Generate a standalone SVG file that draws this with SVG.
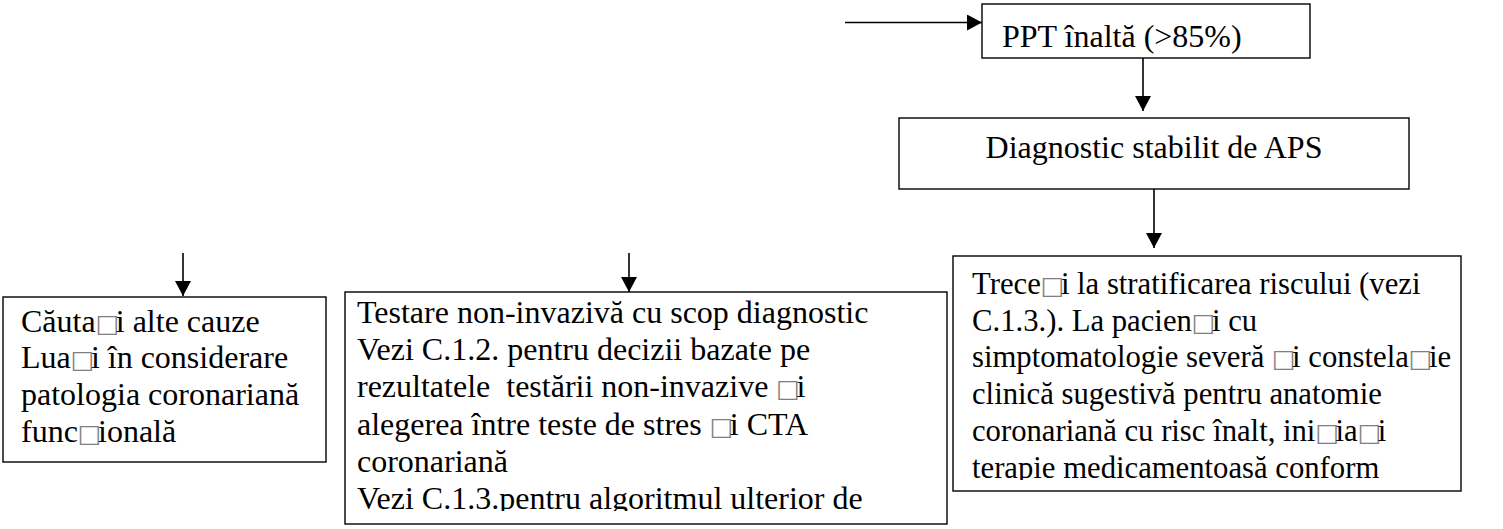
<svg xmlns="http://www.w3.org/2000/svg" width="1503" height="529" viewBox="0 0 1503 529">
<style>
.box{fill:#fff;stroke:#000;stroke-width:1.4}
.t{font-family:"Liberation Serif","Times New Roman",serif;font-size:32px;fill:#000}
.r{font-size:30.7px}
.sq{font-family:"DejaVu Sans",sans-serif;font-size:25px;letter-spacing:-3.5px;fill:#808080}
.con{stroke:#000;stroke-width:1.6;fill:none;marker-end:url(#ah)}
</style>
<defs>
<marker id="ah" markerUnits="userSpaceOnUse" markerWidth="16" markerHeight="16" refX="15" refY="8" orient="auto">
<path d="M0,0 L15,8 L0,16 Z" fill="#000"/>
</marker>
<clipPath id="cm"><rect x="345" y="292" width="602" height="219"/></clipPath>
<clipPath id="cr"><rect x="953" y="256" width="508" height="224"/></clipPath>
</defs>
<g id="connectors">
<line class="con" x1="845" y1="22.5" x2="982" y2="22.5"/>
<line class="con" x1="1143" y1="58" x2="1143" y2="111"/>
<line class="con" x1="1154" y1="188" x2="1154" y2="248"/>
<line class="con" x1="183" y1="253" x2="183" y2="296"/>
<line class="con" x1="629" y1="253" x2="629" y2="292"/>
</g>
<g id="ppt">
<rect class="box" x="982" y="4" width="328" height="54"/>
<text class="t" x="1002" y="47">PPT înaltă (&gt;85%)</text>
</g>
<g id="diag">
<rect class="box" x="899" y="118" width="510" height="71"/>
<text class="t" x="1154" y="158" text-anchor="middle">Diagnostic stabilit de APS</text>
</g>
<g id="left">
<rect class="box" x="3" y="297" width="323" height="165"/>
<text class="t" x="21" y="331.7">Căuta<tspan class="sq">□</tspan>i alte cauze</text>
<text class="t" x="21" y="368.4">Lua<tspan class="sq">□</tspan>i în considerare</text>
<text class="t" x="21" y="405.1">patologia coronariană</text>
<text class="t" x="21" y="441.8">func<tspan class="sq">□</tspan>ională</text>
</g>
<g id="middle">
<rect class="box" x="345" y="292" width="602" height="232"/>
<g clip-path="url(#cm)">
<text class="t" x="357" y="323">Testare non-invazivă cu scop diagnostic</text>
<text class="t" x="357" y="360.2">Vezi C.1.2. pentru decizii bazate pe</text>
<text class="t" x="357" y="397.4" xml:space="preserve">rezultatele  testării non-invazive <tspan class="sq">□</tspan>i</text>
<text class="t" x="357" y="434.6">alegerea între teste de stres <tspan class="sq">□</tspan>i CTA</text>
<text class="t" x="357" y="471.8">coronariană</text>
<text class="t" x="357" y="509">Vezi C.1.3.pentru algoritmul ulterior de</text>
</g>
</g>
<g id="right">
<rect class="box" x="953" y="256" width="508" height="235"/>
<g clip-path="url(#cr)">
<text class="t r" x="972" y="294">Trece<tspan class="sq">□</tspan>i la stratificarea riscului (vezi</text>
<text class="t r" x="972" y="330.7">C.1.3.). La pacien<tspan class="sq">□</tspan>i cu</text>
<text class="t r" x="972" y="367.4">simptomatologie severă <tspan class="sq">□</tspan>i constela<tspan class="sq">□</tspan>ie</text>
<text class="t r" x="972" y="404.1">clinică sugestivă pentru anatomie</text>
<text class="t r" x="972" y="440.8">coronariană cu risc înalt, ini<tspan class="sq">□</tspan>ia<tspan class="sq">□</tspan>i</text>
<text class="t r" x="972" y="477.5">terapie medicamentoasă conform</text>
</g>
</g>
</svg>
